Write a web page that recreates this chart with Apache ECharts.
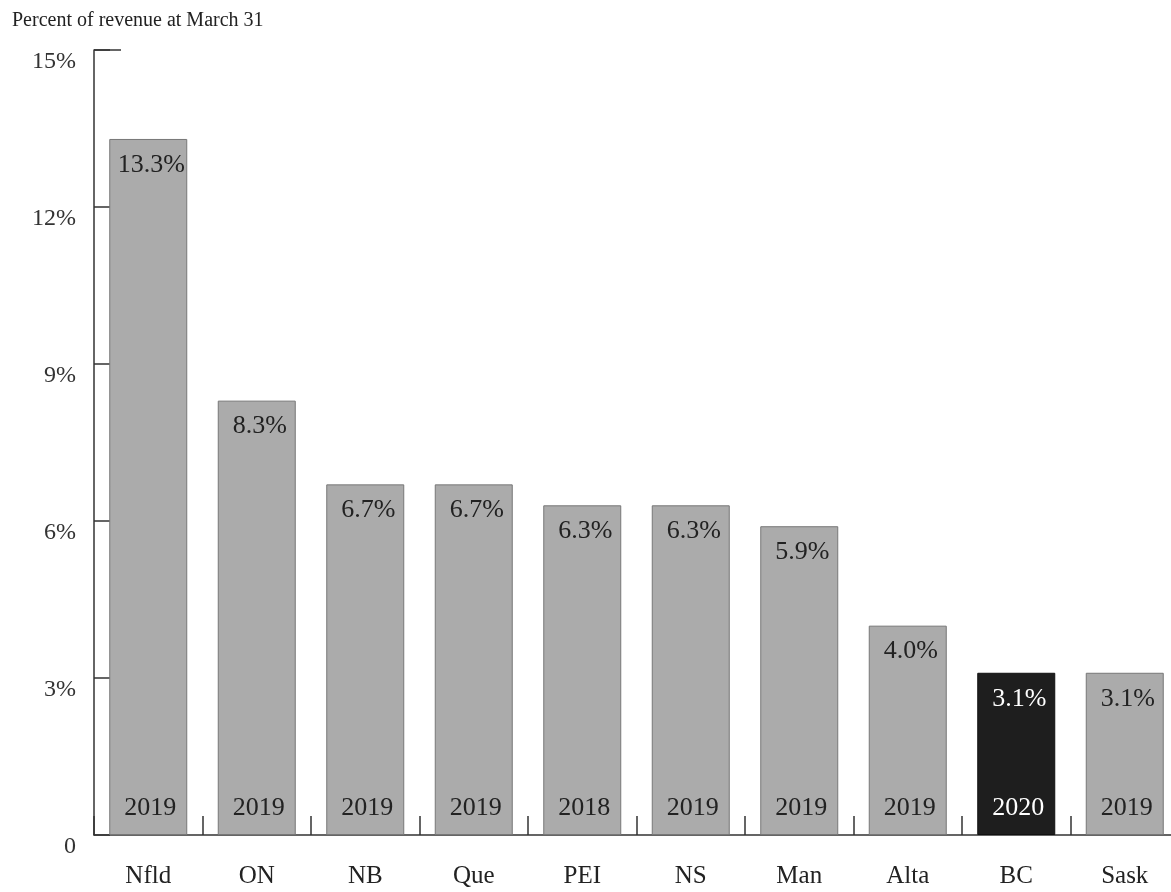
<!DOCTYPE html>
<html>
<head>
<meta charset="utf-8">
<script src="https://cdn.jsdelivr.net/npm/echarts@6/dist/echarts.min.js"></script>
<style>
html,body{margin:0;padding:0;background:#fff;}
#chart{width:1171px;height:892px;}
</style>
</head>
<body>
<div id="chart"></div>
<script>
const categories = ['Nfld','ON','NB','Que','PEI','NS','Man','Alta','BC','Sask'];
const values = [13.3, 8.3, 6.7, 6.7, 6.3, 6.3, 5.9, 4.0, 3.1, 3.1];
const years = ['2019','2019','2019','2019','2018','2019','2019','2019','2020','2019'];
const highlighted = 'BC';
const yTicks = [0, 3, 6, 9, 12, 15];
const titleText = 'Percent of revenue at March 31';

const FONT = '"Liberation Serif", "DejaVu Serif", serif';
const chart = echarts.init(document.getElementById('chart'), null, {renderer:'canvas'});

const barData = values.map((v, i) => ({
  value: v,
  itemStyle: categories[i] === highlighted
    ? {color:'#1e1e1e', borderColor:'#111', borderWidth:1}
    : {color:'#ababab', borderColor:'#777', borderWidth:1},
  label: {color: categories[i] === highlighted ? '#fff' : '#222'}
}));
const yearData = values.map((v, i) => ({
  value: v,
  label: {color: categories[i] === highlighted ? '#fff' : '#222'}
}));

const option = {
  backgroundColor:'#fff',
  animation:false,
  title:{
    text:titleText, left:7, top:6,
    textStyle:{fontFamily:FONT, fontSize:20, fontWeight:'normal', color:'#222'}
  },
  grid:{left:94, top:50, width:1085, height:785, containLabel:false, outerBoundsMode:'none'},
  xAxis:{
    type:'category', data:categories, boundaryGap:true,
    axisLine:{show:true, lineStyle:{color:'#333', width:1.5}},
    axisTick:{show:true, inside:true, length:19, interval:0, alignWithLabel:false,
      lineStyle:{color:'#333', width:1.5}},
    axisLabel:{fontFamily:FONT, fontSize:25, color:'#222', margin:29, interval:0}
  },
  yAxis:{
    type:'value', min:0, max:15, interval:3,
    splitLine:{show:false},
    axisLine:{show:true, lineStyle:{color:'#333', width:1.5}},
    axisTick:{show:true, inside:true, length:16, lineStyle:{color:'#333', width:1.5}},
    axisLabel:{
      fontFamily:FONT, fontSize:24, color:'#333', margin:18, verticalAlign:'top',
      formatter: v => yTicks.includes(v) ? (v === 0 ? '0' : v + '%') : ''
    }
  },
  series:[
    {
      type:'bar', data:barData, barWidth:78,
      label:{show:true, position:'insideTop', distance:13, offset:[3,0],
        fontFamily:FONT, fontSize:26, formatter: p => p.value.toFixed(1) + '%'}
    },
    {
      type:'bar', data:yearData, barWidth:78, barGap:'-100%',
      itemStyle:{color:'rgba(0,0,0,0)'},
      label:{show:true, position:'insideBottom', distance:14, offset:[2,0],
        fontFamily:FONT, fontSize:26, formatter: p => years[p.dataIndex]}
    }
  ]
};
chart.setOption(option);

// longer top tick at the axis maximum, positioned through the axis scale
const yTop = chart.convertToPixel({yAxisIndex:0}, 15);
chart.setOption({
  graphic:[{
    type:'line', silent:true,
    shape:{x1:94, y1:yTop, x2:121, y2:yTop},
    style:{stroke:'#333', lineWidth:1.5}
  }]
});
</script>
</body>
</html>
